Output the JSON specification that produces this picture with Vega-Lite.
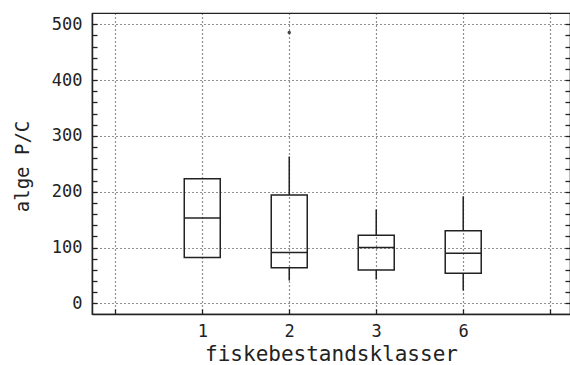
{
  "$schema": "https://vega.github.io/schema/vega-lite/v6.json",
  "width": 478,
  "height": 301,
  "autosize": {"type": "none"},
  "padding": {"left": 92, "top": 13, "right": 0, "bottom": 51},
  "background": "white",
  "config": {
    "view": {"stroke": "#222", "strokeWidth": 1.2},
    "font": "DejaVu Sans Mono",
    "axis": {
      "labelFont": "DejaVu Sans Mono",
      "titleFont": "DejaVu Sans Mono",
      "labelColor": "#222",
      "titleColor": "#222",
      "titleFontWeight": "normal",
      "domainColor": "#222",
      "tickColor": "#222",
      "tickWidth": 1.3,
      "gridColor": "#222",
      "gridDash": [1, 3],
      "gridWidth": 1.2
    }
  },
  "datasets": {
    "boxes": [
      {"klasse": "1", "pos": 1, "lower": 82, "q1": 82, "median": 153, "q3": 223, "upper": 223},
      {"klasse": "2", "pos": 2, "lower": 41, "q1": 64, "median": 91, "q3": 194, "upper": 263},
      {"klasse": "3", "pos": 3, "lower": 43, "q1": 60, "median": 100, "q3": 122, "upper": 168},
      {"klasse": "6", "pos": 4, "lower": 23, "q1": 54, "median": 90, "q3": 130, "upper": 192}
    ],
    "outliers": [
      {"klasse": "2", "pos": 2, "value": 485}
    ]
  },
  "resolve": {"axis": {"y": "independent"}},
  "layer": [
    {
      "data": {"name": "boxes"},
      "mark": {"type": "rule", "color": "#222", "strokeWidth": 1.5},
      "encoding": {
        "x": {
          "field": "pos", "type": "quantitative",
          "scale": {"domain": [-0.21, 5.17], "nice": false, "zero": false},
          "axis": {
            "values": [0, 1, 2, 3, 4, 5],
            "labelExpr": "datum.value == 1 ? '1' : datum.value == 2 ? '2' : datum.value == 3 ? '3' : datum.value == 4 ? '6' : ''",
            "tickSize": -5,
            "labelPadding": 14,
            "labelFontSize": 17,
            "labelAngle": 0,
            "title": "fiskebestandsklasser",
            "titleFontSize": 21,
            "titlePadding": 4,
            "grid": true,
            "domainWidth": 1.5
          }
        },
        "y": {
          "field": "upper", "type": "quantitative",
          "scale": {"domain": [-19, 520], "nice": false, "zero": false},
          "axis": {
            "orient": "left",
            "values": [0, 20, 40, 60, 80, 100, 120, 140, 160, 180, 200, 220, 240, 260, 280, 300, 320, 340, 360, 380, 400, 420, 440, 460, 480, 500],
            "labelExpr": "datum.value % 100 == 0 ? datum.value : ''",
            "gridOpacity": {"condition": {"test": "datum.value % 100 == 0", "value": 1}, "value": 0},
            "grid": true,
            "tickSize": -5,
            "labelPadding": 15,
            "labelFontSize": 17,
            "title": "alge P/C",
            "titleFontSize": 19,
            "titleX": -70,
            "titleY": 153,
            "titleAngle": -90,
            "titleBaseline": "middle",
            "domainWidth": 1.5
          }
        },
        "y2": {"field": "q3"}
      }
    },
    {
      "data": {"name": "boxes"},
      "mark": {"type": "rule", "color": "#222", "strokeWidth": 1.5},
      "encoding": {
        "x": {"field": "pos", "type": "quantitative"},
        "y": {
          "field": "q1", "type": "quantitative",
          "axis": {
            "orient": "right",
            "values": [0, 20, 40, 60, 80, 100, 120, 140, 160, 180, 200, 220, 240, 260, 280, 300, 320, 340, 360, 380, 400, 420, 440, 460, 480, 500],
            "labels": false,
            "grid": false,
            "tickSize": -5,
            "title": null
          }
        },
        "y2": {"field": "lower"}
      }
    },
    {
      "data": {"name": "boxes"},
      "mark": {"type": "bar", "size": 36, "fill": "white", "fillOpacity": 0, "stroke": "#222", "strokeWidth": 1.5},
      "encoding": {
        "x": {"field": "pos", "type": "quantitative"},
        "y": {"field": "q1", "type": "quantitative", "axis": null},
        "y2": {"field": "q3"}
      }
    },
    {
      "data": {"name": "boxes"},
      "mark": {"type": "tick", "orient": "horizontal", "size": 36, "thickness": 1.5, "color": "#222", "opacity": 1},
      "encoding": {
        "x": {"field": "pos", "type": "quantitative"},
        "y": {"field": "median", "type": "quantitative", "axis": null}
      }
    },
    {
      "data": {"name": "outliers"},
      "mark": {"type": "point", "filled": true, "size": 12, "color": "#444", "opacity": 1},
      "encoding": {
        "x": {"field": "pos", "type": "quantitative"},
        "y": {"field": "value", "type": "quantitative", "axis": null}
      }
    }
  ]
}
